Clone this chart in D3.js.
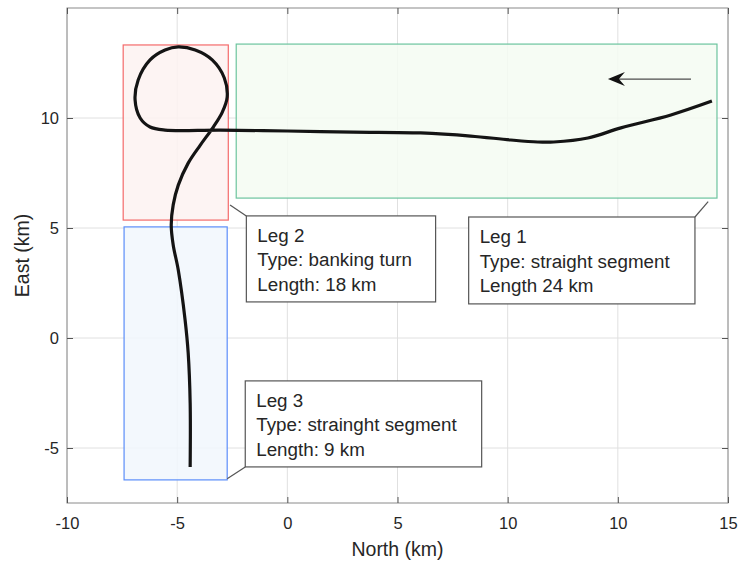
<!DOCTYPE html>
<html>
<head>
<meta charset="utf-8">
<script src="https://cdn.jsdelivr.net/npm/d3@7"></script>
<style>
  html, body { margin: 0; padding: 0; background: #fff; }
  svg { display: block; }
  text { font-family: "Liberation Sans", Arial, Helvetica, sans-serif; fill: #262626; }
</style>
</head>
<body>
<svg id="chart" width="740" height="565"></svg>
<script>
// ---------- DATA ----------
// Trajectory (North, East) in km, in flight order (starts at right end)
const pathNorth = [19.27, 17.41, 15.14, 13.64, 12.09, 11.36, 10.14, 8.32, 6.05, 3.0, 0.0, -3.05, -5.55,
  -6.23, -6.68, -6.91, -6.77, -6.23, -5.55, -4.95, -4.18, -3.41, -2.86, -2.73, -2.95, -3.36,
  -3.95, -4.5, -4.95, -5.18, -5.27, -5.18, -4.95, -4.64, -4.5, -4.41, -4.41];
const pathEast = [10.77, 10.14, 9.55, 9.09, 8.91, 8.91, 9.0, 9.18, 9.32, 9.36, 9.41, 9.45, 9.45,
  9.59, 10.0, 10.82, 11.73, 12.64, 13.09, 13.23, 13.09, 12.64, 11.82, 10.95, 10.27, 9.59,
  8.77, 7.95, 6.95, 6.05, 5.14, 4.23, 3.09, 0.82, -0.68, -2.95, -5.86];

// Leg regions: [northMin, northMax, eastMin, eastMax]
const legNames = ["Leg 1", "Leg 2", "Leg 3"];
const legTypes = ["Type: straight segment", "Type: banking turn", "Type: strainght segment"];
const legLengths = ["Length 24 km", "Length: 18 km", "Length: 9 km"];
const legRegions = [
  [-2.32, 19.5, 6.36, 13.36],
  [-7.45, -2.68, 5.36, 13.32],
  [-7.41, -2.73, -6.45, 5.05]
];

// Direction arrow [fromNorth, toNorth], east
const arrowNorth = [18.32, 14.55];
const arrowEast = [11.77, 11.77];

// Axes
const xTickValues = [-10, -5, 0, 5, 10, 15, 20];
const xTickLabels = ["-10", "-5", "0", "5", "10", "10", "15"];
const yTickValues = [-5, 0, 5, 10];
const yTickLabels = ["-5", "0", "5", "10"];
const xDomain = [-10, 20];
const yDomain = [-7.5, 15];

// ---------- LAYOUT / STYLE ----------
const margin = { left: 67, top: 8, right: 12, bottom: 62 };
const W = 740, H = 565;
const plotW = W - margin.left - margin.right;
const plotH = H - margin.top - margin.bottom;

const legStyles = [
  { stroke: "#6cc49e", fill: "#f4fbf2" },
  { stroke: "#f46a6a", fill: "#fdf2f1" },
  { stroke: "#5b8dfa", fill: "#f1f7fd" }
];
// Callout boxes in data coords [n0, n1, eTop, eBottom], pointer start and box corner
const callouts = [
  { box: [8.23, 18.5, 5.5, 1.55], boxCorner: "tr", from: [19.1, 6.2] },
  { box: [-1.86, 6.73, 5.55, 1.64], boxCorner: "tl", from: [-2.6, 6.05] },
  { box: [-1.91, 8.82, -1.95, -5.86], boxCorner: "bl", from: [-2.73, -6.4] }
];

const svg = d3.select("#chart");
const g = svg.append("g").attr("transform", `translate(${margin.left},${margin.top})`);

const x = d3.scaleLinear().domain(xDomain).range([0, plotW]);
const y = d3.scaleLinear().domain(yDomain).range([plotH, 0]);

g.append("rect").attr("width", plotW).attr("height", plotH).attr("fill", "#fff");

// grid
g.append("g").selectAll("line").data(xTickValues).join("line")
  .attr("x1", d => x(d)).attr("x2", d => x(d)).attr("y1", 0).attr("y2", plotH)
  .attr("stroke", "#e0e0e0").attr("stroke-width", 1);
g.append("g").selectAll("line").data(yTickValues).join("line")
  .attr("y1", d => y(d)).attr("y2", d => y(d)).attr("x1", 0).attr("x2", plotW)
  .attr("stroke", "#e0e0e0").attr("stroke-width", 1);

// leg regions
g.append("g").selectAll("rect").data(legRegions).join("rect")
  .attr("x", d => x(d[0])).attr("y", d => y(d[3]))
  .attr("width", d => x(d[1]) - x(d[0])).attr("height", d => y(d[2]) - y(d[3]))
  .attr("fill", (d, i) => legStyles[i].fill).attr("fill-opacity", 0.85)
  .attr("stroke", (d, i) => legStyles[i].stroke).attr("stroke-width", 1.2);

// trajectory
const pts = pathNorth.map((n, i) => [n, pathEast[i]]);
const line = d3.line().x(d => x(d[0])).y(d => y(d[1])).curve(d3.curveCatmullRom.alpha(0.5));
g.append("path").attr("d", line(pts)).attr("fill", "none")
  .attr("stroke", "#141414").attr("stroke-width", 3.2).attr("stroke-linecap", "butt")
  .attr("stroke-linejoin", "round");

// direction arrow
const ax0 = x(arrowNorth[0]), ax1 = x(arrowNorth[1]), ay = y(arrowEast[0]);
g.append("line").attr("x1", ax0).attr("x2", ax1 + 8).attr("y1", ay).attr("y2", ay)
  .attr("stroke", "#4d4d4d").attr("stroke-width", 1.3);
g.append("path")
  .attr("d", `M${ax1},${ay} L${ax1 + 17},${ay - 7} L${ax1 + 11},${ay} L${ax1 + 17},${ay + 7} Z`)
  .attr("fill", "#111");

// callouts
callouts.forEach((c, i) => {
  const bx0 = x(c.box[0]), bx1 = x(c.box[1]);
  const by0 = y(c.box[2]), by1 = y(c.box[3]);
  let cx, cy;
  if (c.boxCorner === "tr") { cx = bx1; cy = by0; }
  else if (c.boxCorner === "tl") { cx = bx0; cy = by0; }
  else { cx = bx0; cy = by1; }
  g.append("line").attr("x1", x(c.from[0])).attr("y1", y(c.from[1]))
    .attr("x2", cx).attr("y2", cy).attr("stroke", "#555").attr("stroke-width", 1.2);
  g.append("rect").attr("x", bx0).attr("y", by0).attr("width", bx1 - bx0).attr("height", by1 - by0)
    .attr("fill", "#fff").attr("stroke", "#555").attr("stroke-width", 1.2);
  const lines = [legNames[i], legTypes[i], legLengths[i]];
  g.append("g").selectAll("text").data(lines).join("text")
    .attr("x", bx0 + 11).attr("y", (d, j) => by0 + 26 + j * 24.5)
    .attr("font-size", "18.8px").text(d => d);
});

// axes box
g.append("rect").attr("width", plotW).attr("height", plotH).attr("fill", "none")
  .attr("stroke", "#8a8a8a").attr("stroke-width", 1);

// ticks via d3 axes (inward)
const xAxis = d3.axisBottom(x).tickValues(xTickValues).tickSizeInner(-6).tickSizeOuter(0)
  .tickPadding(14).tickFormat((d, i) => xTickLabels[i]);
const yAxis = d3.axisLeft(y).tickValues(yTickValues).tickSizeInner(-6).tickSizeOuter(0)
  .tickPadding(14).tickFormat((d, i) => yTickLabels[i]);
const xa = g.append("g").attr("transform", `translate(0,${plotH})`).call(xAxis);
const ya = g.append("g").call(yAxis);
const xTop = g.append("g").call(d3.axisTop(x).tickValues(xTickValues).tickSizeInner(-6).tickSizeOuter(0).tickFormat(""));
const yRight = g.append("g").attr("transform", `translate(${plotW},0)`)
  .call(d3.axisRight(y).tickValues(yTickValues).tickSizeInner(-6).tickSizeOuter(0).tickFormat(""));
[xa, ya, xTop, yRight].forEach(a => {
  a.select(".domain").remove();
  a.selectAll(".tick line").attr("stroke", "#555");
  a.selectAll("text").attr("font-size", "16.5px").attr("fill", "#262626")
    .attr("font-family", '"Liberation Sans", Arial, sans-serif');
});
xa.selectAll("text").attr("dy", "0.71em").attr("y", 14);
ya.selectAll("text").attr("x", -8);

// axis titles
svg.append("text").attr("x", margin.left + plotW / 2).attr("y", 556)
  .attr("text-anchor", "middle").attr("font-size", "19.5px").text("North (km)");
svg.append("text").attr("transform", `translate(29,${margin.top + plotH / 2}) rotate(-90)`)
  .attr("text-anchor", "middle").attr("font-size", "19.5px").text("East (km)");
</script>
</body>
</html>
